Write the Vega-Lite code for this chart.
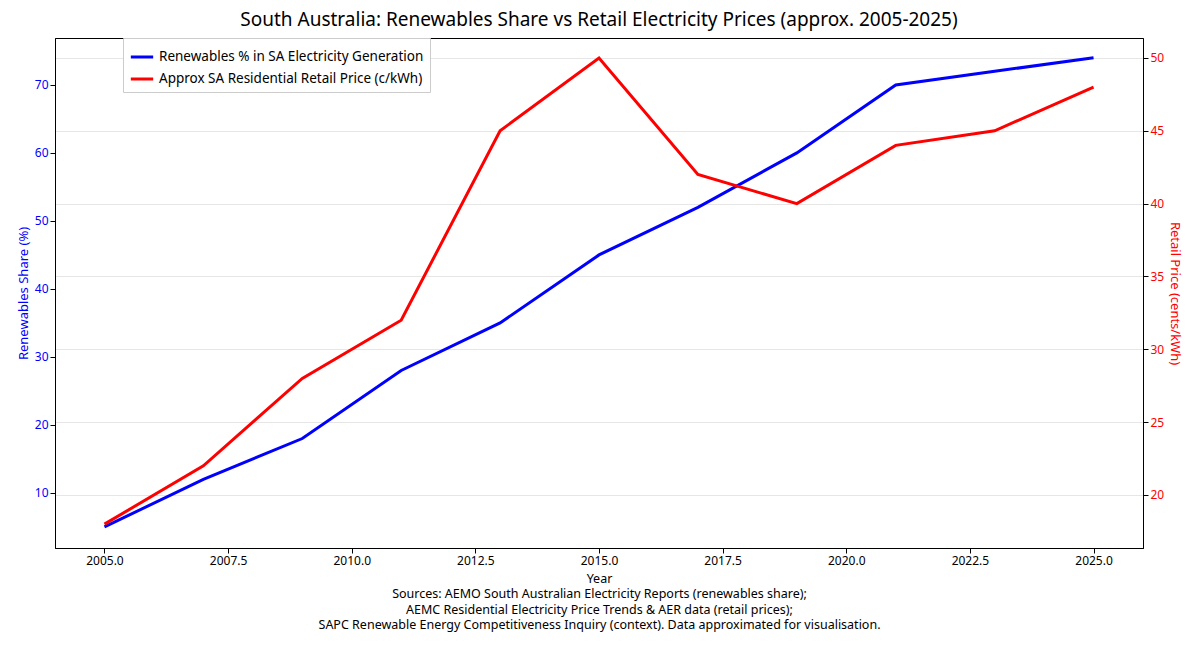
{
"$schema":"https://vega.github.io/schema/vega-lite/v6.json",
"width":1088,"height":510,
"autosize":{"type":"none"},
"padding":{"left":55,"top":38,"right":57,"bottom":118},
"config":{"font":"Noto Sans","view":{"stroke":"black","strokeWidth":1},"axis":{"labelFontSize":12,"titleFontSize":13,"titleFontWeight":"normal","domainColor":"black","tickColor":"black"}},
"title":{"text":"South Australia: Renewables Share vs Retail Electricity Prices (approx. 2005-2025)","fontSize":19,"fontWeight":"normal","offset":8},
"data":{"values":[
{"year":2005,"ren":5,"price":18},{"year":2007,"ren":12,"price":22},{"year":2009,"ren":18,"price":28},{"year":2011,"ren":28,"price":32},{"year":2013,"ren":35,"price":45},{"year":2015,"ren":45,"price":50},{"year":2017,"ren":52,"price":42},{"year":2019,"ren":60,"price":40},{"year":2021,"ren":70,"price":44},{"year":2023,"ren":72,"price":45},{"year":2025,"ren":74,"price":48}]},
"encoding":{"x":{"field":"year","type":"quantitative","scale":{"domain":[2004,2026],"nice":false,"zero":false},"axis":{"format":".1f","values":[2005,2007.5,2010,2012.5,2015,2017.5,2020,2022.5,2025],"grid":false,"titlePadding":6,"title":["Year"," "," ","Sources: AEMO South Australian Electricity Reports (renewables share);","AEMC Residential Electricity Price Trends & AER data (retail prices);","SAPC Renewable Energy Competitiveness Inquiry (context). Data approximated for visualisation."],"titleLineHeight":15.5,"titleFontSize":12.5}}},
"layer":[
{"mark":{"type":"line","strokeWidth":3},"transform":[{"calculate":"'Renewables % in SA Electricity Generation'","as":"s"}],
"encoding":{"y":{"field":"ren","type":"quantitative","scale":{"domain":[1.9,76.9],"nice":false,"zero":false},"axis":{"values":[10,20,30,40,50,60,70],"grid":false,"title":"Renewables Share (%)","titleColor":"blue","labelColor":"blue"}},
"color":{"field":"s","type":"nominal","scale":{"domain":["Renewables % in SA Electricity Generation","Approx SA Residential Retail Price (c/kWh)"],"range":["blue","red"]},"legend":{"title":null,"orient":"none","legendX":68,"legendY":0,"labelFontSize":13.5,"symbolType":"stroke","symbolStrokeWidth":3,"symbolSize":500,"strokeColor":"#ccc","padding":6,"fillColor":"white","labelLimit":400}}}},
{"mark":{"type":"line","strokeWidth":3},"transform":[{"calculate":"'Approx SA Residential Retail Price (c/kWh)'","as":"s"}],
"encoding":{"y":{"field":"price","type":"quantitative","scale":{"domain":[16.36,51.37],"nice":false,"zero":false},"axis":{"orient":"right","values":[20,25,30,35,40,45,50],"grid":true,"gridColor":"#e6e6e6","title":"Retail Price (cents/kWh)","titleColor":"red","labelColor":"red"}},
"color":{"field":"s","type":"nominal"}}}
],
"resolve":{"scale":{"y":"independent"}}
}
